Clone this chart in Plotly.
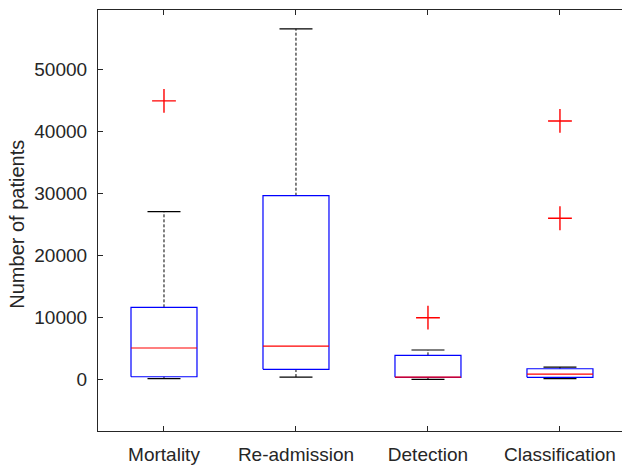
import plotly.graph_objects as go

categories = ["Mortality", "Re-admission", "Detection", "Classification"]
lower_whisker = [100, 370, 0, 100]
q1 = [420, 1610, 330, 320]
median = [5050, 5370, 370, 850]
q3 = [11610, 29610, 3870, 1710]
upper_whisker = [27030, 56500, 4730, 1980]
outliers = [[44890], [], [9940], [41660, 25970]]
y_ticks = [0, 10000, 20000, 30000, 40000, 50000]
y_tick_text = ["0", "10000", "20000", "30000", "40000", "50000"]

BW = 0.25   # half box width
CW = 0.125  # half cap width
FONT = "Liberation Sans, Arial, Helvetica, sans-serif"
TXT = "#262626"

fig = go.Figure()

wx, wy, cx, cy, bx, by, mx, my, ox, oy = ([] for _ in range(10))
for i in range(len(categories)):
    p = i + 1
    wx += [p, p, None, p, p, None]
    wy += [q3[i], upper_whisker[i], None, lower_whisker[i], q1[i], None]
    cx += [p - CW, p + CW, None, p - CW, p + CW, None]
    cy += [upper_whisker[i], upper_whisker[i], None, lower_whisker[i], lower_whisker[i], None]
    bx += [p - BW, p + BW, p + BW, p - BW, p - BW, None]
    by += [q1[i], q1[i], q3[i], q3[i], q1[i], None]
    mx += [p - BW, p + BW, None]
    my += [median[i], median[i], None]
    for v in outliers[i]:
        ox.append(p)
        oy.append(v)

fig.add_trace(go.Scatter(x=wx, y=wy, mode="lines",
                         line=dict(color="black", width=1, dash="3px,2px")))
fig.add_trace(go.Scatter(x=cx, y=cy, mode="lines",
                         line=dict(color="black", width=1.2)))
fig.add_trace(go.Scatter(x=bx, y=by, mode="lines",
                         line=dict(color="#0000FF", width=1.2)))
fig.add_trace(go.Scatter(x=mx, y=my, mode="lines",
                         line=dict(color="#FF0000", width=1.2)))
fig.add_trace(go.Scatter(x=ox, y=oy, mode="markers",
                         marker=dict(symbol="cross-thin-open", size=17, color="#FF0000",
                                     line=dict(color="#FF0000", width=1.4))))

fig.update_layout(
    width=622, height=473,
    margin=dict(l=98, r=0, t=10, b=42),
    paper_bgcolor="white", plot_bgcolor="white",
    showlegend=False,
    font=dict(family=FONT, size=19, color=TXT),
    xaxis=dict(range=[0.5, 4.47], tickvals=[1, 2, 3, 4], ticktext=categories,
               showgrid=False, zeroline=False, showline=True, linecolor=TXT,
               linewidth=1.2, mirror="ticks", ticks="inside", ticklen=5,
               tickcolor=TXT, tickfont=dict(size=19, color=TXT),
               ticklabelstandoff=6),
    yaxis=dict(range=[-8330, 59550], tickvals=y_ticks, ticktext=y_tick_text,
               showgrid=False, zeroline=False, showline=True, linecolor=TXT,
               linewidth=1.2, ticks="inside", ticklen=5, tickcolor=TXT,
               tickfont=dict(size=19, color=TXT), ticklabelstandoff=6),
    annotations=[dict(text="Number of patients", xref="paper", yref="paper",
                      x=0, y=0.49, xanchor="center", yanchor="middle",
                      xshift=-81, textangle=-90, showarrow=False,
                      font=dict(size=20, color=TXT, family=FONT))],
)

fig.write_html("out.html")
